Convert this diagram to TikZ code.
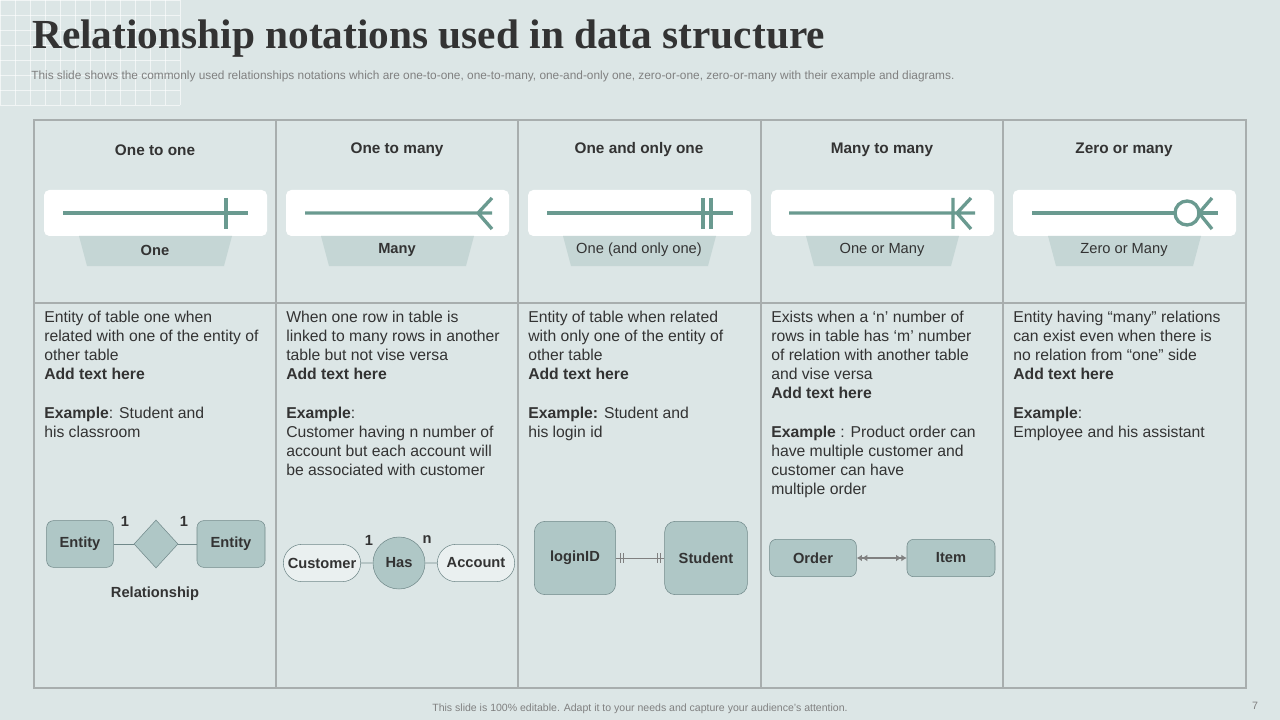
\documentclass[tikz,border=0pt]{standalone}
\usepackage{fontspec}
\setmainfont{Liberation Sans}
\newfontfamily\titlefont{Liberation Serif}
\usetikzlibrary{shapes,shapes.geometric,arrows,arrows.meta,positioning,calc}
\definecolor{bgc}{HTML}{DCE6E6}
\definecolor{ent}{HTML}{AFC7C6}
\definecolor{entd}{HTML}{71898A}
\definecolor{sym}{HTML}{6A9A90}
\definecolor{tagc}{HTML}{C5D6D5}
\definecolor{txt}{HTML}{333333}
\definecolor{rule}{HTML}{A8AEAE}
\tikzset{
  hdr/.style={font=\fontsize{11.5}{13}\selectfont\bfseries, text=txt},
  body/.style={anchor=north west, align=left, inner sep=0pt, text=txt, font=\fontsize{11.8}{14.3}\selectfont},
  strip/.style={fill=white, rounded corners=4pt, draw=none},
  tag/.style={fill=tagc, draw=none},
  symline/.style={draw=sym, line width=2.5pt},
  ent/.style={draw=entd, fill=ent, rounded corners=5pt, font=\fontsize{11}{13}\selectfont\bfseries, text=txt},
  attr/.style={draw=entd, fill=bgc!60!white, rounded rectangle, font=\fontsize{11}{13}\selectfont\bfseries, text=txt},
  card/.style={font=\fontsize{11}{13}\selectfont\bfseries, text=txt}
}
\begin{document}
\begin{tikzpicture}[x=0.75pt,y=-0.75pt]
\fill[bgc] (0,0) rectangle (1280,720);
\useasboundingbox (0,0) rectangle (1280,720);
% grid in the corner
\foreach \i in {0,15,...,180} \draw[white,opacity=0.6,line width=0.4pt] (\i,0) -- (\i,105);
\foreach \j in {0,15,...,105} \draw[white,opacity=0.6,line width=0.4pt] (0,\j) -- (180,\j);
% title
\node[anchor=west, inner sep=0pt, text=txt, font=\titlefont\bfseries\fontsize{31}{33}\selectfont] (title) at (32,39) {Relationship notations used in data structure};
\node[anchor=west, inner sep=0pt, text=gray, font=\fontsize{8.9}{10}\selectfont] (sub) at (31,76) {This slide shows the commonly used relationships notations which are one-to-one, one-to-many, one-and-only one, zero-or-one, zero-or-many with their example and diagrams.};
% table
\draw[rule, line width=0.8pt] (34,120) rectangle (1246,688);
\draw[rule, line width=0.8pt] (34,303) -- (1246,303);
\foreach \cx in {276,518,761,1003} \draw[rule, line width=0.8pt] (\cx,120) -- (\cx,688);
% headers, strips and tags
\foreach \cx/\h/\t/\w in {34/One to one/One/\bfseries, 276/One to many/Many/\bfseries, 518/One and only one/One (and only one)/\relax, 761/Many to many/One or Many/\relax, 1003/Zero or many/Zero or Many/\relax}{
  \node[hdr] at (\cx+121,150) {\h};
  \fill[strip] (\cx+10,190) rectangle (\cx+233,236);
  \fill[tag] (\cx+45,236) -- (\cx+198,236) -- (\cx+190,266) -- (\cx+53,266) -- cycle;
  \node[text=txt, font=\fontsize{11}{13}\selectfont] at (\cx+121,250) {\w\t};
}
% notation symbols
\draw[symline] (63,213) -- (248,213) (226,198) -- (226,229);
\draw[symline] (305,213) -- (492,213) (492,198) -- (478,213) -- (492,229);
\draw[symline] (547,213) -- (733,213) (703,198) -- (703,229) (711,198) -- (711,229);
\draw[symline] (789,213) -- (975,213) (953,198) -- (953,229) (971,198) -- (957,213) -- (971,229);
\draw[symline] (1032,213) -- (1175,213) (1199,213) -- (1218,213);
\draw[symline] (1187,213) circle (12);
\draw[symline] (1212,198) -- (1199,213) -- (1212,229);
% descriptions
\node[body] (d1) at (44,311) {Entity of table one when\\related with one of the entity of\\other table\\\textbf{Add text here}\\[14.3pt]\textbf{Example}: Student and\\his classroom};
\node[body] (d2) at (286,311) {When one row in table  is\\linked to many rows in another\\table  but not vise versa\\\textbf{Add text here}\\[14.3pt]\textbf{Example}:\\Customer having n number of\\account but each account will\\be associated with customer};
\node[body] (d3) at (528,311) {Entity of table when related\\with only one of the entity of\\other table\\\textbf{Add text here}\\[14.3pt]\textbf{Example:} Student and\\his login id};
\node[body] (d4) at (771,311) {Exists when a `n' number of\\rows in table  has `m' number\\of relation with another table\\and vise versa\\\textbf{Add text here}\\[14.3pt]\textbf{Example} : Product order can\\have multiple customer and\\customer can have\\multiple order};
\node[body] (d5) at (1013,311) {Entity having ``many'' relations\\can exist even when there is\\no relation from ``one'' side\\\textbf{Add text here}\\[14.3pt]\textbf{Example}:\\Employee and his assistant};
% one to one example
\node[ent, minimum width=50pt, minimum height=35pt] (e1) at (80,544) {Entity};
\node[diamond, draw=entd, fill=ent, minimum width=33pt, minimum height=36pt, inner sep=0pt] (rel) at (156,544) {};
\node[ent, minimum width=51pt, minimum height=35pt] (e2) at (231,544) {Entity};
\draw[entd] (e1) -- (rel) (rel) -- (e2);
\node[card] (c1) at (125,521) {1};
\node[card] (c2) at (184,521) {1};
\node[card] (rlab) at (155,594) {Relationship};
% one to many example
\node[attr, minimum width=60pt, minimum height=28pt, inner xsep=1pt] (cust) at (322,563) {Customer};
\node[circle, draw=entd, fill=ent, minimum size=39pt, inner sep=0pt, font=\fontsize{11}{13}\selectfont\bfseries, text=txt] (has) at (399,563) {Has};
\node[attr, minimum width=60pt, minimum height=28pt, inner xsep=1pt] (acc) at (476,563) {Account};
\draw[entd] (cust) -- (has) (has) -- (acc);
\node[card] (n1) at (369,540) {1};
\node[card] (n2) at (427,540) {n};
% one and only one example
\node[ent, rounded corners=8pt, minimum width=61pt, minimum height=55pt] (login) at (575,558) {loginID};
\node[ent, rounded corners=8pt, minimum width=62pt, minimum height=55pt] (stud) at (706,558) {Student};
\draw[gray] (login) -- (stud);
\draw[gray] ($(login.east)+(4,-5)$) -- ++(0,10) ($(login.east)+(7,-5)$) -- ++(0,10);
\draw[gray] ($(stud.west)+(-4,-5)$) -- ++(0,10) ($(stud.west)+(-7,-5)$) -- ++(0,10);
% many to many example
\node[ent, minimum width=65pt, minimum height=28pt] (ord) at (813,558) {Order};
\node[ent, minimum width=66pt, minimum height=28pt] (item) at (951,558) {Item};
\draw[gray, line width=0.8pt, >={Latex[length=4pt,width=5pt]}, <<->>] (ord) -- (item);
% footer
\node[text=gray, font=\fontsize{7.9}{9}\selectfont] (foot) at (640,709) {This slide is 100\% editable.  Adapt it to your needs and capture your audience's attention.};
\node[text=gray, font=\fontsize{8}{9}\selectfont] (pg) at (1255,706) {7};
\end{tikzpicture}
\end{document}
